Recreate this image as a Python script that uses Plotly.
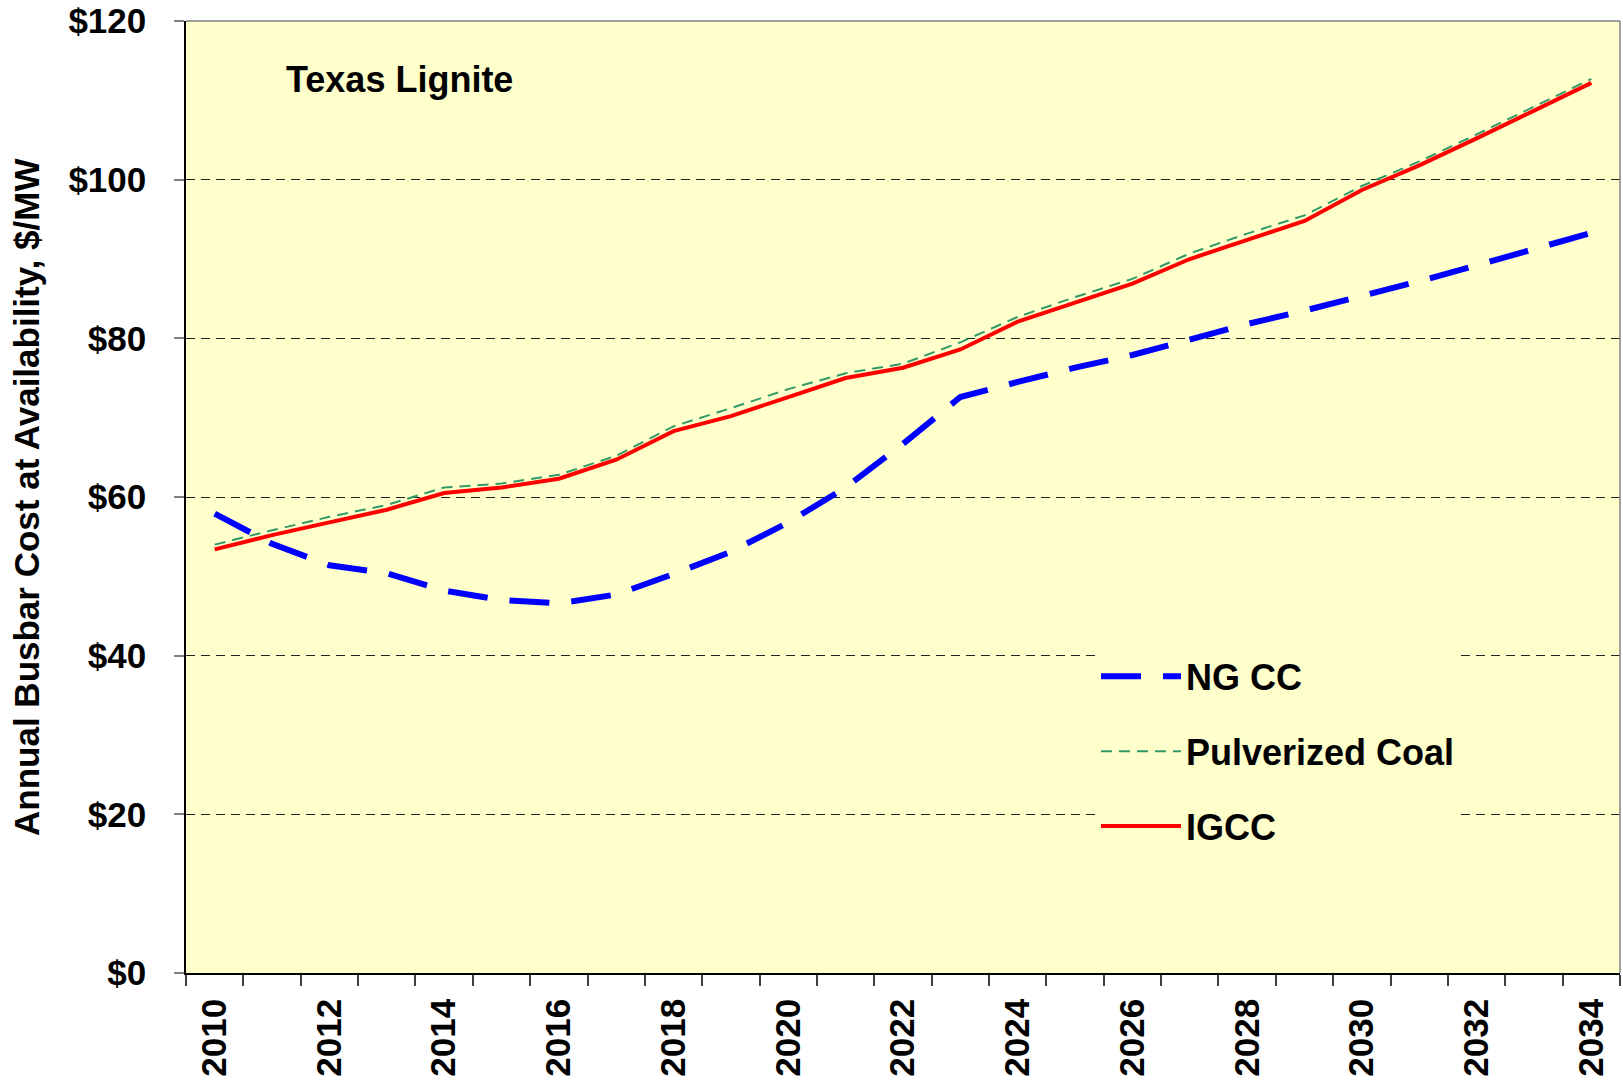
import plotly.graph_objects as go

# --- Datos (USD/MWh) ---
years = list(range(2010, 2035))
ng_cc = [57.9, 54.1, 51.4, 50.4, 48.2, 47.0, 46.6, 47.7, 50.3, 53.1, 56.8, 61.2, 66.7,
         72.6, 74.5, 76.3, 77.9, 79.9, 81.8, 83.5, 85.3, 87.2, 89.2, 91.2, 93.3]
pulverized_coal = [54.0, 55.8, 57.5, 59.0, 61.2, 61.7, 62.8, 65.2, 68.9, 71.2, 73.6, 75.6, 76.8,
                   79.5, 82.7, 85.2, 87.5, 90.7, 93.2, 95.5, 99.2, 102.3, 105.7, 109.2, 112.7]
igcc = [53.4, 55.2, 56.8, 58.4, 60.5, 61.2, 62.3, 64.7, 68.3, 70.2, 72.6, 75.0, 76.3,
        78.6, 82.1, 84.5, 86.9, 90.0, 92.4, 94.8, 98.7, 101.8, 105.2, 108.7, 112.2]

x_labels = [str(y) for y in years[::2]]
y_ticks = [0, 20, 40, 60, 80, 100, 120]
y_labels = ["$" + str(v) for v in y_ticks]

font_family = "Arial, Liberation Sans, sans-serif"
bg_yellow = "#FFFFCC"

fig = go.Figure()
fig.add_trace(go.Scatter(x=years, y=ng_cc, name="NG CC", mode="lines", legendgroup="a",
                         line=dict(color="#0000FF", width=6, dash="40px,22px")))
fig.add_trace(go.Scatter(x=years, y=pulverized_coal, name="Pulverized Coal", mode="lines", legendgroup="b",
                         line=dict(color="#339966", width=2, dash="11px,7px")))
fig.add_trace(go.Scatter(x=years, y=igcc, name="IGCC", mode="lines", legendgroup="c",
                         line=dict(color="#FF0000", width=4)))

fig.update_layout(
    width=1623, height=1084,
    margin=dict(l=186, r=3, t=21, b=111),
    paper_bgcolor="white",
    plot_bgcolor=bg_yellow,
    font=dict(family=font_family, color="black", size=35, weight="bold"),
    showlegend=True,
    legend=dict(
        x=0.6346, xanchor="left", y=0.343, yanchor="top",
        bgcolor=bg_yellow, borderwidth=0,
        traceorder="grouped", tracegroupgap=25,
        itemwidth=80,
        font=dict(size=36, family=font_family, weight="bold"),
    ),
    xaxis=dict(
        range=[2009.5, 2034.5], automargin=False,
        tickmode="array", tickvals=years[::2], ticktext=x_labels,
        tickangle=-90, ticks="", showgrid=False, zeroline=False,
        ticklabelstandoff=10,
        showline=True, linecolor="black", linewidth=1.5,
        minor=dict(tickmode="array", tickvals=[y - 0.5 for y in years] + [2034.5],
                   ticks="outside", ticklen=11, tickcolor="#404040", tickwidth=1.5, showgrid=False),
        tickfont=dict(size=35),
    ),
    yaxis=dict(
        range=[0, 120], automargin=False,
        tickmode="array", tickvals=y_ticks, ticktext=y_labels,
        ticks="outside", ticklen=10, tickcolor="#808080", tickwidth=1.5,
        ticklabelstandoff=21,
        showgrid=True, gridcolor="#222222", gridwidth=1, griddash="9px,6px",
        zeroline=False,
        showline=True, linecolor="black", linewidth=1.5,
        tickfont=dict(size=35),
    ),
)

# borde superior y derecho del area del grafico
fig.add_shape(type="line", xref="paper", yref="paper", x0=0, x1=1, y0=1, y1=1,
              line=dict(color="#808080", width=1.5))
fig.add_shape(type="line", xref="paper", yref="paper", x0=1, x1=1, y0=0, y1=1,
              line=dict(color="#808080", width=1.5))

fig.add_annotation(text="Texas Lignite", xref="paper", yref="paper", x=0.0685, y=0.939,
                   xanchor="left", yanchor="middle", showarrow=False,
                   font=dict(size=36, family=font_family, weight="bold"))
fig.add_annotation(text="Annual Busbar Cost at Availability, $/MW", xref="paper", yref="paper",
                   x=-0.1116, y=0.5, xanchor="center", yanchor="middle", textangle=-90,
                   showarrow=False, font=dict(size=35, family=font_family, weight="bold"))

fig.write_html("out.html", config={"displayModeBar": False},
               post_script="document.body.style.margin='0';")
